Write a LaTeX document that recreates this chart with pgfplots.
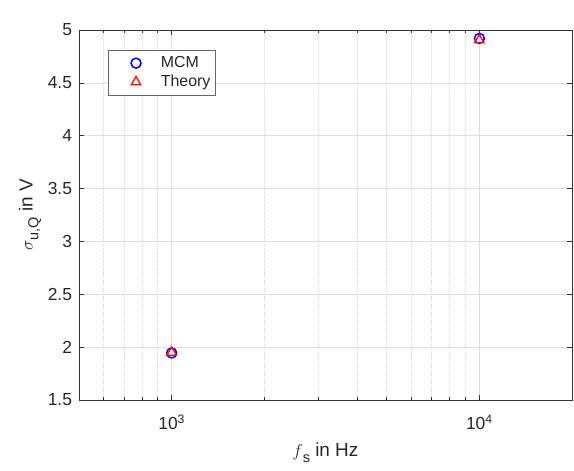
\documentclass[border=0pt]{standalone}
\usepackage{fontspec}
\setmainfont{Liberation Sans}
\usepackage{pgfplots}
\pgfplotsset{compat=1.18}
\newcommand\fs{\fontsize{17.5}{21}\selectfont}
\newcommand\fl{\fontsize{19}{23}\selectfont}
\newcommand\fg{\fontsize{16}{19}\selectfont}
\newcommand\sub[1]{\raisebox{-0.3em}{\fontsize{14.5}{17}\selectfont #1}}
\begin{document}
\fs
\begin{tikzpicture}
\begin{axis}[
  name=ax,
  scale only axis, width=493bp, height=370bp,
  xmode=log, xmin=500, xmax=20000, ymin=1.5, ymax=5,
  xtick={1000,10000}, xticklabels={10\textsuperscript{3},10\textsuperscript{4}},
  minor xtick={600,700,800,900,2000,3000,4000,5000,6000,7000,8000,9000,20000},
  ytick={1.5,2,2.5,3,3.5,4,4.5,5},
  minor y tick num=0,
  /pgf/number format/assume math mode=true,
  grid=both,
  major grid style={black!13, line width=0.6bp},
  minor grid style={black!13, line width=0.6bp, densely dotted},
  tick align=inside, major tick length=5bp, minor tick length=3bp,
  axis line style={black!80, line width=0.6bp},
  every tick/.style={black!80, line width=0.6bp},
  tick label style={black!85, font=\fs},
  xticklabel style={yshift=-9bp},
  yticklabel style={xshift=-1bp},
  label style={black!85, font=\fl},
  xlabel={$f$\sub{s} in Hz},
  ylabel={$\sigma$\sub{u,Q} in V},
  xlabel style={at={(axis description cs:0.5,-0.154)}, anchor=base},
  ylabel style={at={(axis description cs:-0.0994,0.5)}, anchor=center},
  legend style={at={(rel axis cs:0.0588,0.946)}, anchor=north west,
    draw=black!60, line width=0.6bp, fill=white, text=black!85,
    font=\fg, row sep=1bp, inner xsep=3bp, inner ysep=4bp},
  legend cell align=left,
  legend image code/.code={\path (0bp,0bp) (46bp,0bp);
    \draw[mark repeat=2,mark phase=2,#1] plot coordinates {(0bp,0bp)(24bp,0bp)(46bp,0bp)};},
]
\addplot[only marks, mark=o, mark size=5bp, blue, line width=1.5bp]
  coordinates {(1000,1.945) (10000,4.92)};
\addlegendentry{MCM}
\addplot[only marks, mark=triangle, mark size=5.5bp, red, line width=1.3bp]
  coordinates {(1000,1.95) (10000,4.905)};
\addlegendentry{Theory}
\node[anchor=south west, inner sep=0, xshift=2bp, yshift=3bp, text=black!85] at (rel axis cs:0,1) {×10\textsuperscript{-9}};
\end{axis}
\pgfresetboundingbox
\path (-79bp,-71bp) rectangle (495bp,400bp);
\end{tikzpicture}
\end{document}
